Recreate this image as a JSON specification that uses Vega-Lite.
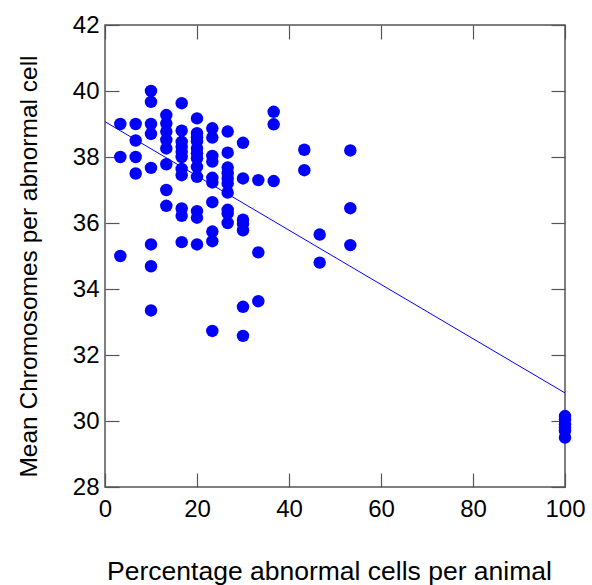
{
  "$schema": "https://vega.github.io/schema/vega-lite/v6.json",
  "width": 460,
  "height": 462,
  "autosize": "none",
  "padding": {"left": 105, "top": 25, "right": 27, "bottom": 98},
  "background": "white",
  "config": {
    "font": "Liberation Sans",
    "view": {"stroke": "#555", "strokeWidth": 1.5},
    "axis": {"grid": false, "domain": false, "tickColor": "#555", "tickWidth": 1.2, "labelColor": "black", "titleColor": "black", "labelFontSize": 24, "titleFontWeight": "normal", "labelFont": "Liberation Sans", "titleFont": "Liberation Sans"}
  },
  "datasets": {
    "pts": [
      {"pct": 3.33, "chrom": 39.0}, {"pct": 3.33, "chrom": 38.0}, {"pct": 3.33, "chrom": 35.0},
      {"pct": 6.67, "chrom": 39.0}, {"pct": 6.67, "chrom": 38.5}, {"pct": 6.67, "chrom": 38.0}, {"pct": 6.67, "chrom": 37.5},
      {"pct": 10, "chrom": 40.0}, {"pct": 10, "chrom": 39.67}, {"pct": 10, "chrom": 39.0}, {"pct": 10, "chrom": 38.7}, {"pct": 10, "chrom": 37.67}, {"pct": 10, "chrom": 35.35}, {"pct": 10, "chrom": 34.69}, {"pct": 10, "chrom": 33.35},
      {"pct": 13.33, "chrom": 39.27}, {"pct": 13.33, "chrom": 39.02}, {"pct": 13.33, "chrom": 38.77}, {"pct": 13.33, "chrom": 38.52}, {"pct": 13.33, "chrom": 38.26}, {"pct": 13.33, "chrom": 37.78}, {"pct": 13.33, "chrom": 37.0}, {"pct": 13.33, "chrom": 36.52},
      {"pct": 16.67, "chrom": 39.63}, {"pct": 16.67, "chrom": 38.8}, {"pct": 16.67, "chrom": 38.46}, {"pct": 16.67, "chrom": 38.31}, {"pct": 16.67, "chrom": 38.16}, {"pct": 16.67, "chrom": 38.0}, {"pct": 16.67, "chrom": 37.64}, {"pct": 16.67, "chrom": 37.45}, {"pct": 16.67, "chrom": 36.44}, {"pct": 16.67, "chrom": 36.22}, {"pct": 16.67, "chrom": 35.42},
      {"pct": 20, "chrom": 39.17}, {"pct": 20, "chrom": 38.72}, {"pct": 20, "chrom": 38.6}, {"pct": 20, "chrom": 38.48}, {"pct": 20, "chrom": 38.26}, {"pct": 20, "chrom": 38.11}, {"pct": 20, "chrom": 37.96}, {"pct": 20, "chrom": 37.7}, {"pct": 20, "chrom": 37.4}, {"pct": 20, "chrom": 36.36}, {"pct": 20, "chrom": 36.16}, {"pct": 20, "chrom": 35.35},
      {"pct": 23.33, "chrom": 38.87}, {"pct": 23.33, "chrom": 38.59}, {"pct": 23.33, "chrom": 38.03}, {"pct": 23.33, "chrom": 37.86}, {"pct": 23.33, "chrom": 37.37}, {"pct": 23.33, "chrom": 37.23}, {"pct": 23.33, "chrom": 36.63}, {"pct": 23.33, "chrom": 35.74}, {"pct": 23.33, "chrom": 35.45}, {"pct": 23.33, "chrom": 32.73},
      {"pct": 26.67, "chrom": 38.77}, {"pct": 26.67, "chrom": 38.13}, {"pct": 26.67, "chrom": 37.68}, {"pct": 26.67, "chrom": 37.51}, {"pct": 26.67, "chrom": 37.35}, {"pct": 26.67, "chrom": 37.2}, {"pct": 26.67, "chrom": 36.92}, {"pct": 26.67, "chrom": 36.4}, {"pct": 26.67, "chrom": 36.29}, {"pct": 26.67, "chrom": 36.0},
      {"pct": 30, "chrom": 38.43}, {"pct": 30, "chrom": 37.35}, {"pct": 30, "chrom": 36.1}, {"pct": 30, "chrom": 35.98}, {"pct": 30, "chrom": 35.78}, {"pct": 30, "chrom": 33.46}, {"pct": 30, "chrom": 32.58},
      {"pct": 33.33, "chrom": 37.3}, {"pct": 33.33, "chrom": 35.11}, {"pct": 33.33, "chrom": 33.63},
      {"pct": 36.67, "chrom": 39.37}, {"pct": 36.67, "chrom": 38.99}, {"pct": 36.67, "chrom": 37.27},
      {"pct": 43.33, "chrom": 38.22}, {"pct": 43.33, "chrom": 37.6},
      {"pct": 46.67, "chrom": 35.65}, {"pct": 46.67, "chrom": 34.8},
      {"pct": 53.33, "chrom": 38.2}, {"pct": 53.33, "chrom": 36.45}, {"pct": 53.33, "chrom": 35.33},
      {"pct": 100, "chrom": 30.15}, {"pct": 100, "chrom": 30.05}, {"pct": 100, "chrom": 29.9}, {"pct": 100, "chrom": 29.8}, {"pct": 100, "chrom": 29.7}, {"pct": 100, "chrom": 29.5}
    ],
    "fit": [
      {"pct": 0, "chrom": 39.07},
      {"pct": 100, "chrom": 30.85}
    ]
  },
  "layer": [
    {
      "data": {"name": "pts"},
      "mark": {"type": "circle", "size": 155, "opacity": 1, "color": "#0000ff"},
      "encoding": {
        "x": {"field": "pct", "type": "quantitative", "scale": {"domain": [0, 100], "nice": false, "zero": false},
          "axis": {"orient": "bottom", "values": [0, 20, 40, 60, 80, 100], "tickSize": -14, "labelPadding": 24, "title": "Percentage abnormal cells per animal", "titleFontSize": 26.5, "titlePadding": 37, "titleX": 224, "labelFlush": false}},
        "y": {"field": "chrom", "type": "quantitative", "scale": {"domain": [28, 42], "nice": false, "zero": false},
          "axis": {"orient": "left", "values": [28, 30, 32, 34, 36, 38, 40, 42], "tickSize": -14, "labelPadding": 20, "title": "Mean Chromosomes per abnormal cell", "titleFontSize": 24.5, "titlePadding": 31, "titleY": 241, "labelFlush": false}}
      }
    },
    {
      "data": {"name": "fit"},
      "mark": {"type": "line", "color": "#0000ff", "strokeWidth": 1},
      "encoding": {
        "x": {"field": "pct", "type": "quantitative", "axis": {"orient": "top", "values": [0, 20, 40, 60, 80, 100], "tickSize": -14, "labels": false, "title": null}},
        "y": {"field": "chrom", "type": "quantitative", "axis": {"orient": "right", "values": [28, 30, 32, 34, 36, 38, 40, 42], "tickSize": -14, "labels": false, "title": null}}
      }
    }
  ],
  "resolve": {"axis": {"x": "independent", "y": "independent"}}
}
